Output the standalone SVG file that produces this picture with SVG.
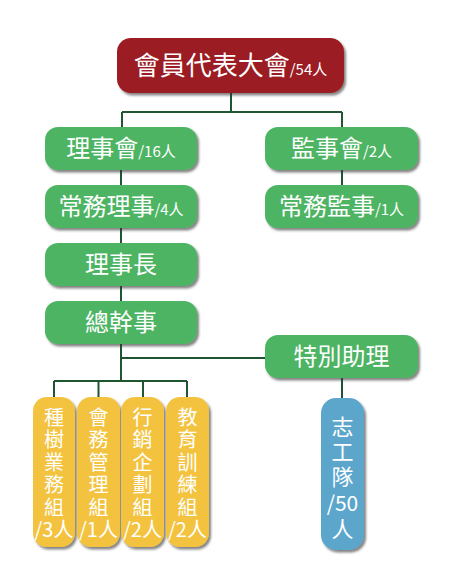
<svg xmlns="http://www.w3.org/2000/svg" width="453" height="573" viewBox="0 0 453 573">
<defs>
<filter id="sh" x="-20%" y="-20%" width="140%" height="140%">
<feDropShadow dx="2" dy="2.5" stdDeviation="1.2" flood-color="#333" flood-opacity="0.6"/>
</filter>
<style>
.red{fill:#9b1c22;filter:url(#sh)}
.grn{fill:#4db463;filter:url(#sh)}
.yel{fill:#f3c340;filter:url(#sh)}
.blu{fill:#5ba6cc;filter:url(#sh)}
text{font-family:"Noto Sans CJK TC","Noto Sans",sans-serif;fill:#fff;text-anchor:middle}
.big{font-size:26px}
.mid{font-size:24px}
.sm{font-size:15px}
.v{font-size:20px}
.vt{font-size:20px;writing-mode:vertical-rl;text-orientation:upright;text-anchor:start;letter-spacing:2.5px}
.vtb{font-size:22px;writing-mode:vertical-rl;text-orientation:upright;text-anchor:start;letter-spacing:3px}
.vb{font-size:21px}
.ln{stroke:#1e5631;stroke-width:2;fill:none}
</style>
</defs>
<rect width="453" height="573" fill="#fff"/>
<g id="connectors">
<path class="ln" d="M231 93V112M122 112H342M122 112V127M342 112V127"/>
<path class="ln" d="M121 170V185M121 228V243M121 286V301M121 344V381M121 358H265"/>
<path class="ln" d="M342 170V185"/>
<path class="ln" d="M54 381H187M54 381V397M98.5 381V397M143 381V397M187 381V397"/>
<path class="ln" d="M342 378V398"/>
</g>
<g id="assembly">
<rect class="red" x="117" y="38" width="227" height="55" rx="14"/>
<text x="230.5" y="75"><tspan class="big">會員代表大會</tspan><tspan class="sm">/54人</tspan></text>
</g>
<g id="board">
<rect class="grn" x="45" y="127" width="152" height="43" rx="13"/>
<text x="121" y="157"><tspan class="mid">理事會</tspan><tspan class="sm">/16人</tspan></text>
</g>
<g id="supervisors">
<rect class="grn" x="265" y="127" width="153" height="43" rx="13"/>
<text x="341.5" y="157"><tspan class="mid">監事會</tspan><tspan class="sm">/2人</tspan></text>
</g>
<g id="standing-directors">
<rect class="grn" x="45" y="185" width="152" height="43" rx="13"/>
<text x="121" y="215"><tspan class="mid">常務理事</tspan><tspan class="sm">/4人</tspan></text>
</g>
<g id="standing-supervisor">
<rect class="grn" x="265" y="185" width="153" height="43" rx="13"/>
<text x="341.5" y="215"><tspan class="mid">常務監事</tspan><tspan class="sm">/1人</tspan></text>
</g>
<g id="chairman">
<rect class="grn" x="45" y="243" width="152" height="43" rx="13"/>
<text x="121" y="273" class="mid">理事長</text>
</g>
<g id="secretary-general">
<rect class="grn" x="45" y="301" width="152" height="43" rx="13"/>
<text x="121" y="331" class="mid">總幹事</text>
</g>
<g id="special-assistant">
<rect class="grn" x="265" y="335" width="153" height="43" rx="13"/>
<text x="341.5" y="365" class="mid">特別助理</text>
</g>
<g id="tree-planting">
<rect class="yel" x="33" y="397" width="42" height="150" rx="14"/>
<text class="vt" x="54" y="407">種樹業務組</text>
<text class="v" x="54" y="537">/3人</text>
</g>
<g id="admin">
<rect class="yel" x="77" y="397" width="43" height="150" rx="14"/>
<text class="vt" x="98.5" y="407">會務管理組</text>
<text class="v" x="98.5" y="537">/1人</text>
</g>
<g id="marketing">
<rect class="yel" x="121" y="397" width="43" height="150" rx="14"/>
<text class="vt" x="142.5" y="407">行銷企劃組</text>
<text class="v" x="142.5" y="537">/2人</text>
</g>
<g id="training">
<rect class="yel" x="166" y="397" width="43" height="150" rx="14"/>
<text class="vt" x="187.5" y="407">教育訓練組</text>
<text class="v" x="187.5" y="537">/2人</text>
</g>
<g id="volunteers">
<rect class="blu" x="321" y="398" width="43" height="152" rx="15"/>
<text class="vtb" x="342.5" y="416">志工隊</text>
<text class="vb" x="342.5" y="511">/50</text>
<text class="vtb" x="342.5" y="518">人</text>
</g>
</svg>
